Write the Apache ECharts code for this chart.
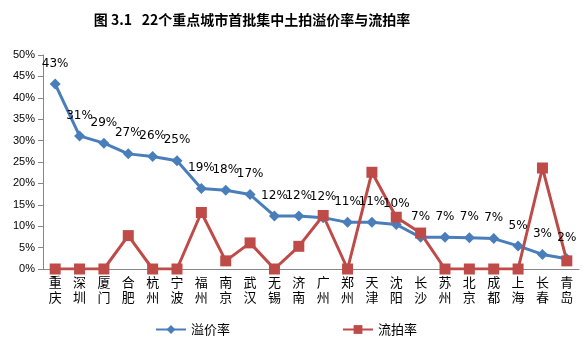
<!DOCTYPE html>
<html><head><meta charset="utf-8">
<script src="https://cdn.jsdelivr.net/npm/echarts@6/dist/echarts.min.js"></script>
<style>html,body{margin:0;padding:0;background:#fff}#c{width:587px;height:339px}</style>
</head><body><div id="c"></div>
<script>
const cities = ['重庆','深圳','厦门','合肥','杭州','宁波','福州','南京','武汉','无锡','济南','广州','郑州','天津','沈阳','长沙','苏州','北京','成都','上海','长春','青岛'];
const premiumRate = [43.2,31.1,29.4,26.9,26.3,25.3,18.8,18.4,17.4,12.4,12.4,12.0,10.9,10.9,10.4,7.4,7.4,7.3,7.1,5.4,3.4,2.4];
const failRate = [0,0,0,7.8,0,0,13.2,1.9,6.1,0,5.3,12.5,0,22.6,12.1,8.4,0,0,0,0,23.6,1.9];
const yTicks = [0,5,10,15,20,25,30,35,40,45,50];

const chart = echarts.init(document.getElementById('c'), null, {renderer:'canvas'});
chart.setOption({
  animation:false,
  title:{text:'图 3.1   22个重点城市首批集中土拍溢价率与流拍率', left:247, textAlign:'center', top:8,
    textStyle:{fontSize:14, fontWeight:'bold', color:'#000', fontFamily:'Noto Sans CJK SC'}},
  grid:{left:43, right:8, top:55, bottom:70},
  legend:{bottom:-2, left:150, itemGap:112, itemWidth:30, itemHeight:11,
    textStyle:{fontSize:13, color:'#000', fontFamily:'Noto Sans CJK SC'},
    data:['溢价率','流拍率']},
  xAxis:{type:'category', data:cities, boundaryGap:true,
    axisLine:{lineStyle:{color:'#868686'}},
    axisTick:{length:5, lineStyle:{color:'#868686'}},
    axisLabel:{interval:0, color:'#000', fontSize:13, lineHeight:15, margin:6, fontFamily:'Noto Sans CJK SC',
      formatter:v=>v.split('').join('\n')}},
  yAxis:{type:'value', min:yTicks[0], max:yTicks[yTicks.length-1], interval:5,
    splitLine:{show:false},
    axisLine:{show:true, lineStyle:{color:'#868686'}},
    axisTick:{show:true, length:5, lineStyle:{color:'#868686'}},
    axisLabel:{color:'#000', fontSize:11, margin:8, fontFamily:'Liberation Sans', formatter:v=>v+'%'}},
  series:[
    {name:'溢价率', type:'line', data:premiumRate, symbol:'diamond', symbolSize:11,
      lineStyle:{width:3, color:'#4A7EBB'}, itemStyle:{color:'#4A7EBB'},
      label:{show:true, position:'top', distance:9, color:'#000', fontSize:12, fontFamily:'DejaVu Sans',
        formatter:p=>Math.round(p.value)+'%'}},
    {name:'流拍率', type:'line', data:failRate, symbol:'rect', symbolSize:11,
      lineStyle:{width:3, color:'#BE4B48'}, itemStyle:{color:'#BE4B48'}}
  ]
});
</script></body></html>
